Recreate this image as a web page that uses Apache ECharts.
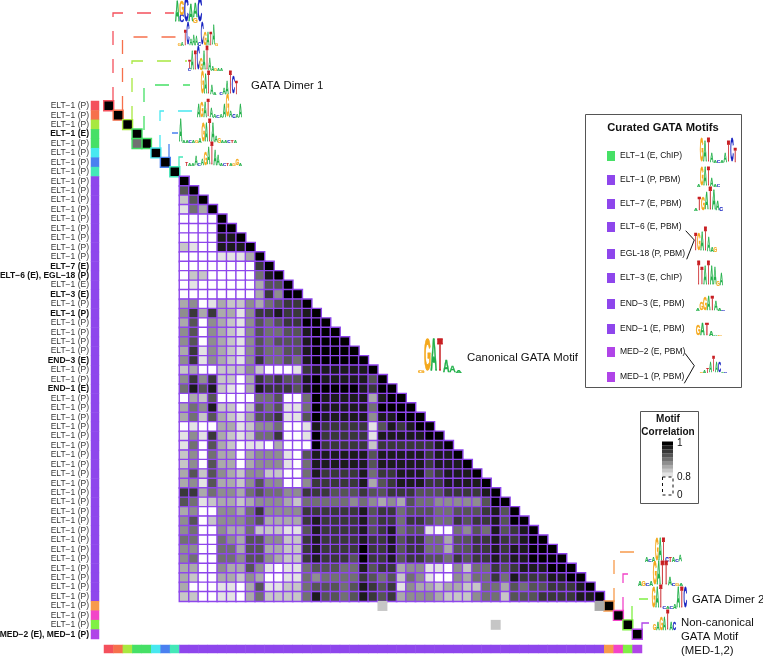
<!DOCTYPE html>
<html>
<head>
<meta charset="utf-8">
<style>html,body{margin:0;background:#fff}#chart{width:763px;height:657px}</style>
<script src="https://cdn.jsdelivr.net/npm/echarts@6/dist/echarts.min.js"></script>
</head>
<body>
<div id="chart"></div>
<script>
const FONT = '"Liberation Sans", Helvetica, Arial, sans-serif';
const N = 57;

// first row of each motif cluster, and its colour
const groupStart = [0, 1, 2, 3, 5, 6, 7, 8, 53, 54, 55, 56];
const groupColor = ['#f4505c', '#f6704c', '#a8e840', '#46e066', '#48e8f0', '#4a80f0', '#44e8b8',
  '#8e46ec', '#f79a4c', '#f244c8', '#80f044', '#b044e8'];

const rowLabels = ['ELT−1 (P)', 'ELT−1 (P)', 'ELT−1 (P)', 'ELT−1 (E)', 'ELT−1 (P)', 'ELT−1 (P)', 'ELT−1 (P)', 'ELT−1 (P)',
  'ELT−1 (P)', 'ELT−1 (P)', 'ELT−1 (P)', 'ELT−1 (P)', 'ELT−1 (P)', 'ELT−1 (P)', 'ELT−1 (P)', 'ELT−1 (P)', 'ELT−1 (P)',
  'ELT−7 (E)', 'ELT−6 (E), EGL−18 (P)', 'ELT−1 (E)', 'ELT−3 (E)', 'ELT−1 (P)', 'ELT−1 (P)', 'ELT−1 (P)', 'ELT−1 (P)',
  'ELT−1 (P)', 'ELT−1 (P)', 'END−3 (E)', 'ELT−1 (P)', 'ELT−1 (P)', 'END−1 (E)', 'ELT−1 (P)', 'ELT−1 (P)', 'ELT−1 (P)',
  'ELT−1 (P)', 'ELT−1 (P)', 'ELT−1 (P)', 'ELT−1 (P)', 'ELT−1 (P)', 'ELT−1 (P)', 'ELT−1 (P)', 'ELT−1 (P)', 'ELT−1 (P)',
  'ELT−1 (P)', 'ELT−1 (P)', 'ELT−1 (P)', 'ELT−1 (P)', 'ELT−1 (P)', 'ELT−1 (P)', 'ELT−1 (P)', 'ELT−1 (P)', 'ELT−1 (P)',
  'ELT−1 (P)', 'ELT−1 (P)', 'ELT−1 (P)', 'ELT−1 (P)', 'MED−2 (E), MED−1 (P)'];
const boldRows = [3, 17, 18, 20, 22, 27, 30, 56];

// big cluster, rows 8..52 from column 8: grey level per cell, 0 white (<=0.8) .. 9 black (1.0)
const bigCluster = [
  '9',
  '69',
  '269',
  '1539',
  '0000 9',
  '0000 99',
  '0000 889',
  '2100 8889',
  '0000 1113 9',
  '0000 0000 79',
  '0220 0000 589',
  '0100 0000 3669',
  '0000 0000 3749 9',
  '3401 3224 356 77 9',
  '4737 3314 778 77 8 9',
  '3604 3214 656 77 9 99',
  '4604 3214 655 66 8 999',
  '4604 3214 656 66 8 9999',
  '3714 3214 655 66 8 99999',
  '4714 3214 755 65 8 999999',
  '2300 2224 200 01 7 888888 9',
  '4747 2203 767 66 8 988888 6 9',
  '5868 2103 877 76 8 999998 7 99',
  '0326 0000 556 00 5 988888 3 89 9',
  '3548 2202 656 11 5 988888 5 99 99',
  '3526 3213 667 11 6 988888 4 88 999',
  '0100 3312 445 00 1 877777 1 68 7899',
  '1417 3212 557 00 1 977777 1 88 88899',
  '1506 3201 103 00 0 977777 2 77 777789',
  '2405 3303 444 10 6 888888 6 88 8887889',
  '2406 3303 444 10 5 888888 6 88 88878889',
  '3626 4324 422 00 5 877778 5 77 888678889',
  '3416 3324 644 00 4 777778 3 67 8887788889',
  '7735 4435 655 44 7 776667 6 67 77666777789',
  '6512 3323 444 32 5 555545 4 34 365544444699',
  '3400 4435 744 44 7 777778 6 77 5666556667869',
  '4602 4445 633 33 7 877778 6 77 57765576778699',
  '4500 4335 222 11 6 877778 6 78 566100546586789',
  '5500 5436 644 22 7 877778 7 78 677553 6677 8778 99',
  '4400 5536 633 22 7 877779 7 78 677553 6677 8788 999',
  '4500 5546 643 22 7 877769 7 78 677665 7677 8788 9999',
  '3300 4336 410 11 5 666558 6 77 344110 4255 7678 88 999',
  '3200 3324 300 11 5 455557 6 56 254100 4355 7587 77 88 99',
  '3000 1103 611 22 5 666568 7 67 143323 3225 5365 6677 789',
  '2200 1103 522 22 5 866568 7 67 3444 3222 455 2 666 7777 88 9'
];

// cells outside the diagonal blocks: [column, row, grey level]
const strayCells = [[3, 4, 5], [52, 53, 3], [29, 53, 2], [41, 55, 2]];
const legendSteps = [9, 8, 7, 6, 5, 4, 3, 2, 1];

const curatedNames = ['ELT−1 (E, ChIP)', 'ELT−1 (P, PBM)', 'ELT−7 (E, PBM)', 'ELT−6 (E, PBM)', 'EGL-18 (P, PBM)',
  'ELT−3 (E, ChIP)', 'END−3 (E, PBM)', 'END−1 (E, PBM)', 'MED−2 (E, PBM)', 'MED−1 (P, PBM)'];
const curatedColor = ['#46e066', '#8e46ec', '#8e46ec', '#8e46ec', '#8e46ec', '#8e46ec', '#8e46ec', '#8e46ec', '#b044e8', '#b044e8'];
const curatedY = [156, 180, 204, 227, 254, 278, 304, 329, 352, 377];

// sequence logos: each column is letter+height pairs stacked bottom up, height in tenths
const logoColors = { A: '#22b04a', C: '#1420c0', G: '#f4a81c', T: '#c81e22' };
const logos = [
  { box: [175, 0, 202, 23], cols: ['A9', 'C3G6', 'C10', 'A7', 'G2A6', 'C10'] },
  { box: [178, 25, 218, 46], cols: ['G1', 'A2', 'T7', 'C10', 'A3', 'A5', 'A4', 'C2', 'C10', 'G6', 'A6', 'T6', 'A9', 'G1'] },
  { box: [188, 48, 223, 71], cols: ['C1T3', 'A8', 'T8', 'C10', 'G5', 'A8', 'T10', 'A5', 'A2', 'G1', 'A1', 'A1'] },
  { box: [201, 74, 238, 95], cols: ['G10', 'A9', 'T10', 'A4', 'A1', '', 'C1', 'A3', 'A6', 'T10', 'C8', 'T6'] },
  { box: [197, 97, 242, 118], cols: ['A6', 'G7', 'A7', 'T8', 'A4', 'A2', 'C1', 'A2', 'A6', 'G10', 'A3', 'C2', 'A2', 'A6'] },
  { box: [179, 121, 237, 143], cols: ['A10', 'A1', 'A1', 'C1', 'A1', 'G1', 'A2', 'G8', 'A8', 'T10', 'A8', 'A3', 'G2', 'A1', 'A1', 'C1', 'T1', 'A1'] },
  { box: [185, 145, 242, 166], cols: ['T2', 'A1', 'A1', 'A4', 'C1', 'A3', 'G6', 'A8', 'T10', 'A7', 'A5', 'A1', 'C1', 'T1', 'A1', 'G1', 'G3', 'A1'] },
  { box: [418, 343, 462, 373], cols: ['G1', 'G10', 'A10', 'T10', 'A4', 'A2', 'A1'] },
  { box: [645, 540, 682, 562], cols: ['A2', 'C1', 'A2', 'G10', 'A10', 'T10', 'C2', 'T2', 'A2', 'C1', 'A3'] },
  { box: [638, 563, 683, 586], cols: ['A2', 'G2', 'C1', 'A2', 'G10', 'A10', 'T10', 'T10', 'A3', 'C1', 'G1', 'A1'] },
  { box: [652, 587, 687, 609], cols: ['G9', 'A9', 'T10', 'C1', 'A1', 'C1', 'A2', 'A9', 'T9', 'C9'] },
  { box: [653, 612, 676, 631], cols: ['G3', 'A4', 'G7', 'A7', 'T10', 'A4', 'C4'] },
  { box: [700, 140, 737, 163], cols: ['G10', 'A9', 'T10', 'A4', 'A1', 'C1', 'A1', 'A4', 'T9', 'C10', 'T6'] },
  { box: [697, 169, 720, 187], cols: ['A1', 'G10', 'A10', 'T10', 'A4', 'A1', 'C1'] },
  { box: [694, 190, 723, 211], cols: ['A1', 'T6', 'G6', 'A8', 'T10', 'A9', 'A4', 'C2'] },
  { box: [694, 229, 717, 252], cols: ['T7', 'G7', 'A8', 'T10', 'A6', 'A2', 'G2'] },
  { box: [697, 263, 723, 286], cols: ['T10', 'T7', 'A8', 'T10', 'A8', 'A7', 'G2', 'A5'] },
  { box: [696, 297, 725, 311], cols: ['A2', 'G5', 'G9', 'A10', 'T10', 'A6', 'A2', 'C1'] },
  { box: [696, 324, 722, 336], cols: ['G8', 'A10', 'T10', 'A4', 'A1', 'G1'] },
  { box: [700, 358, 727, 373], cols: ['G1', 'A2', 'T3', 'A7', 'T10', 'A7', 'C7', 'A1', 'C1'] }
];

// dashed leaders from a cluster to its logo: [colour, corner x, corner y, logo x, bottom y]
const leaders = [
  [0, 113, 13, 174, 101], [1, 122.5, 37, 178, 110], [2, 132, 61, 187, 120], [3, 144, 85, 190, 130],
  [4, 160, 111, 193, 149], [5, 169, 133, 178, 158], [6, 179, 157, 185, 167],
  [8, 614, 552, 643, 602], [9, 623, 574, 636, 611], [10, 632, 599, 648, 620], [11, 642, 623, 650, 630]
];

const indices = Array.from({ length: N }, (_, i) => i);
const levelToCorr = d => 0.8 + 0.2 * d / 9;

function groupOf(i) {
  let g = 0;
  groupStart.forEach((s, k) => { if (i >= s) g = k; });
  return g;
}

// one heatmap series per cluster so it gets its own cell border
const series = groupStart.map((s, g) => {
  const end = g + 1 < groupStart.length ? groupStart[g + 1] : N;
  const data = [];
  if (s === 8) {
    bigCluster.forEach((row, r) => {
      row.replace(/ /g, '').split('').forEach((ch, c) => {
        data.push([c + 8, r + 8, levelToCorr(+ch)]);
      });
    });
  } else {
    for (let i = s; i < end; i++) data.push([i, i, 1]);
    strayCells.forEach(([c, r, d]) => {
      if (c >= s && r < end && r >= s) data.push([c, r, levelToCorr(d)]);
    });
  }
  return {
    type: 'heatmap', xAxisIndex: 0, yAxisIndex: 0, data, silent: true,
    itemStyle: { borderColor: groupColor[g], borderWidth: 1.4 }
  };
});
const heatCount = series.length + 1;
series.push({
  type: 'heatmap', xAxisIndex: 0, yAxisIndex: 0, silent: true,
  data: strayCells.filter(([c, r]) => groupOf(c) !== groupOf(r)).map(([c, r, d]) => [c, r, levelToCorr(d)])
});

// colour strips on the left and at the bottom
series.push({
  type: 'heatmap', xAxisIndex: 1, yAxisIndex: 1, silent: true,
  data: indices.map(i => ({ value: [0, i, 1], itemStyle: { color: groupColor[groupOf(i)] } }))
});
series.push({
  type: 'heatmap', xAxisIndex: 2, yAxisIndex: 2, silent: true,
  data: indices.map(i => ({ value: [i, 0, 1], itemStyle: { color: groupColor[groupOf(i)] } }))
});

const graphic = [];

leaders.forEach(([g, cx, cy, lx, by]) => {
  graphic.push({
    type: 'polyline', silent: true,
    shape: { points: [[cx, by], [cx, cy], [lx, cy]] },
    style: { stroke: groupColor[g], lineWidth: 1.3, lineDash: [14, 14], fill: null }
  });
});

logos.forEach(({ box, cols }) => {
  const [x0, y0, x1, y1] = box;
  const cw = (x1 - x0) / cols.length, h = y1 - y0;
  cols.forEach((col, i) => {
    let base = y1;
    (col.match(/[ACGT]\d+/g) || []).forEach(tok => {
      const letterH = h * (+tok.slice(1)) / 10;
      // 20px bold caps are about 13.8px high and 14px wide
      graphic.push({
        type: 'text', silent: true, x: x0 + cw * (i + 0.5), y: base - letterH / 2,
        scaleX: cw / 14, scaleY: letterH / 13.8,
        style: {
          text: tok[0], font: 'bold 20px ' + FONT, fill: logoColors[tok[0]], align: 'center', verticalAlign: 'middle',
          stroke: logoColors[tok[0]], lineWidth: 0.6
        }
      });
      base -= letterH;
    });
  });
});

function label(text, x, y, size, weight, align) {
  graphic.push({
    type: 'text', silent: true, x, y,
    style: { text, font: (weight || 'normal') + ' ' + size + 'px ' + FONT, fill: '#111', align: align || 'left', verticalAlign: 'middle' }
  });
}

label('GATA Dimer 1', 251, 86, 11.4);
label('Canonical GATA Motif', 467, 358, 11.4);
label('GATA Dimer 2', 692, 600, 11.4);
label('Non-canonical', 681, 623, 11.4);
label('GATA Motif', 681, 637, 11.4);
label('(MED-1,2)', 681, 651, 11.4);

// curated motifs box
graphic.push({ type: 'rect', silent: true, shape: { x: 585.5, y: 114.5, width: 156, height: 273 }, style: { fill: null, stroke: '#555', lineWidth: 1 } });
label('Curated GATA Motifs', 663, 128, 11.2, 'bold', 'center');
curatedNames.forEach((name, i) => {
  graphic.push({ type: 'rect', silent: true, shape: { x: 607, y: curatedY[i] - 5, width: 8, height: 10 }, style: { fill: curatedColor[i] } });
  label(name, 620, curatedY[i], 8.5);
});
[[[685.7, 230.7], [694.3, 240], [686.7, 259.3]], [[685, 353.3], [694.3, 365.7], [684.3, 383.3]]].forEach(points => {
  graphic.push({ type: 'polyline', silent: true, shape: { points }, style: { stroke: '#111', lineWidth: 1, fill: null } });
});

// colour key
graphic.push({ type: 'rect', silent: true, shape: { x: 640.5, y: 411.5, width: 58, height: 92 }, style: { fill: null, stroke: '#555', lineWidth: 1 } });
label('Motif', 668, 419, 10, 'bold', 'center');
label('Correlation', 668, 432, 10, 'bold', 'center');
legendSteps.forEach((d, i) => {
  const v = Math.round(255 * (1 - d / 9));
  graphic.push({ type: 'rect', silent: true, shape: { x: 662, y: 441.5 + i * 3.9, width: 11, height: 4 }, style: { fill: `rgb(${v},${v},${v})` } });
});
graphic.push({ type: 'rect', silent: true, shape: { x: 662.5, y: 477, width: 10.5, height: 18 }, style: { fill: null, stroke: '#111', lineWidth: 1, lineDash: [3, 3] } });
label('1', 677, 443, 10);
label('0.8', 677, 477, 10);
label('0', 677, 495, 10);

const cats = indices.map(String);
const hidden = { show: false };

const chart = echarts.init(document.getElementById('chart'), null, { renderer: 'canvas' });
chart.setOption({
  animation: false,
  backgroundColor: '#fff',
  grid: [
    { left: 104, top: 101, width: 538, height: 538, outerBoundsMode: 'none' },
    { left: 91, top: 101, width: 8, height: 538, outerBoundsMode: 'none' },
    { left: 104, top: 645, width: 538, height: 8, outerBoundsMode: 'none' }
  ],
  xAxis: [
    { gridIndex: 0, type: 'category', data: cats, axisLine: hidden, axisTick: hidden, axisLabel: hidden, splitLine: hidden },
    { gridIndex: 1, type: 'category', data: ['0'], axisLine: hidden, axisTick: hidden, axisLabel: hidden, splitLine: hidden },
    { gridIndex: 2, type: 'category', data: cats, axisLine: hidden, axisTick: hidden, axisLabel: hidden, splitLine: hidden }
  ],
  yAxis: [
    { gridIndex: 0, type: 'category', data: cats, inverse: true, axisLine: hidden, axisTick: hidden, axisLabel: hidden, splitLine: hidden },
    {
      gridIndex: 1, type: 'category', data: cats, inverse: true, axisLine: hidden, axisTick: hidden, splitLine: hidden,
      axisLabel: {
        interval: 0, margin: 2, fontFamily: FONT, fontSize: 8.5, color: '#333',
        formatter: (v, i) => (boldRows.includes(i) ? '{b|' + rowLabels[i] + '}' : rowLabels[i]),
        rich: { b: { fontWeight: 'bold', fontFamily: FONT, fontSize: 8.5, color: '#111' } }
      }
    },
    { gridIndex: 2, type: 'category', data: ['0'], axisLine: hidden, axisTick: hidden, axisLabel: hidden, splitLine: hidden }
  ],
  visualMap: {
    show: false, type: 'continuous', min: 0.8, max: 1,
    seriesIndex: groupStart.map((_, i) => i).concat(heatCount - 1),
    inRange: { color: ['#ffffff', '#000000'] }
  },
  series,
  graphic
});
</script>
</body>
</html>
